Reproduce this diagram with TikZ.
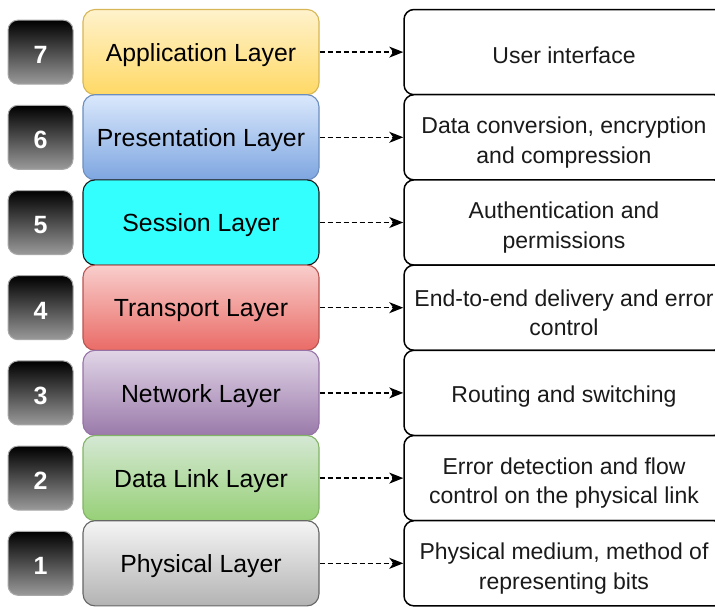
\documentclass[tikz,border=0pt]{standalone}
\usepackage{fontspec}
\setmainfont{Liberation Sans}
\usetikzlibrary{arrows.meta}

% layer palette: top fill, bottom fill, outline
\definecolor{appTop}{HTML}{FFF2CC}\definecolor{appBot}{HTML}{FFD966}\definecolor{appLine}{HTML}{D6B656}
\definecolor{preTop}{HTML}{DAE8FC}\definecolor{preBot}{HTML}{7EA6E0}\definecolor{preLine}{HTML}{6C8EBF}
\definecolor{sesFill}{HTML}{33FFFF}\definecolor{sesLine}{HTML}{1A1A1A}
\definecolor{traTop}{HTML}{F8CECC}\definecolor{traBot}{HTML}{EA6B66}\definecolor{traLine}{HTML}{B85450}
\definecolor{netTop}{HTML}{E1D5E7}\definecolor{netBot}{HTML}{9A7AAA}\definecolor{netLine}{HTML}{9673A6}
\definecolor{dlkTop}{HTML}{D5E8D4}\definecolor{dlkBot}{HTML}{97D077}\definecolor{dlkLine}{HTML}{82B366}
\definecolor{phyTop}{HTML}{F5F5F5}\definecolor{phyBot}{HTML}{B3B3B3}\definecolor{phyLine}{HTML}{666666}
\definecolor{numBot}{HTML}{9A9A9A}\definecolor{numLine}{HTML}{A8A8A8}
\definecolor{infoText}{HTML}{1A1A1A}

\begin{document}
\begin{tikzpicture}[x=1pt,y=1pt,
  layerbox/.style={rounded corners=12pt, line width=1.1pt, minimum width=236pt,
    minimum height=85.2pt, inner sep=0pt},
  layertext/.style={inner sep=0pt, font=\fontsize{24.8}{28}\selectfont},
  numbox/.style={rounded corners=10pt, draw=numLine, line width=1pt,
    top color=black, bottom color=numBot, minimum width=65pt, minimum height=64pt,
    inner sep=0pt},
  numtext/.style={inner sep=0pt, text=white, font=\fontsize{25}{28}\selectfont\bfseries},
  infobox/.style={rounded corners=10pt, draw=black, line width=1.5pt, fill=white,
    minimum width=320pt, minimum height=85.2pt, inner sep=0pt},
  infotext/.style={inner sep=0pt, align=center, text=infoText,
    font=\fontsize{23}{29.5}\selectfont},
  link/.style={dashed, dash pattern=on 5pt off 3pt, line width=1.3pt,
    -{Stealth[length=14pt,width=11pt,inset=4pt]}},
]
\useasboundingbox (0,0) rectangle (715,-606);
\clip (0,0) rectangle (715,-606);

% column centres
\def\numx{40.5}
\def\layx{201}
\def\infx{564}

% layer stack (top to bottom)
\node[layerbox, draw=appLine, top color=appTop, bottom color=appBot] (l7) at (\layx,-52.1) {};
\node[layerbox, draw=preLine, top color=preTop, bottom color=preBot] (l6) at (\layx,-137.3) {};
\node[layerbox, draw=sesLine, fill=sesFill] (l5) at (\layx,-222.5) {};
\node[layerbox, draw=traLine, top color=traTop, bottom color=traBot] (l4) at (\layx,-307.7) {};
\node[layerbox, draw=netLine, top color=netTop, bottom color=netBot] (l3) at (\layx,-392.9) {};
\node[layerbox, draw=dlkLine, top color=dlkTop, bottom color=dlkBot] (l2) at (\layx,-478.1) {};
\node[layerbox, draw=phyLine, top color=phyTop, bottom color=phyBot] (l1) at (\layx,-563.3) {};

\node[layertext] (t7) at ([yshift=-3pt]l7.center) {Application Layer};
\node[layertext] (t6) at ([yshift=-3pt]l6.center) {Presentation Layer};
\node[layertext] (t5) at ([yshift=-3pt]l5.center) {Session Layer};
\node[layertext] (t4) at ([yshift=-3pt]l4.center) {Transport Layer};
\node[layertext] (t3) at ([yshift=-3pt]l3.center) {Network Layer};
\node[layertext] (t2) at ([yshift=-3pt]l2.center) {Data Link Layer};
\node[layertext] (t1) at ([yshift=-3pt]l1.center) {Physical Layer};

% layer numbers
\foreach \i/\y in {7/-52.1, 6/-137.3, 5/-222.5, 4/-307.7, 3/-392.9, 2/-478.1, 1/-563.3} {
  \node[numbox] (n\i) at (\numx,\y) {};
  \node[numtext] (m\i) at ([yshift=-3pt]n\i.center) {\i};
}

% layer functions
\foreach \i/\y in {7/-52.1, 6/-137.3, 5/-222.5, 4/-307.7, 3/-392.9, 2/-478.1, 1/-563.3} {
  \node[infobox] (f\i) at (\infx,\y) {};
}
\node[infotext] (g7) at ([yshift=-3.5pt]f7.center) {User interface};
\node[infotext] (g6) at ([yshift=-5pt]f6.center) {Data conversion, encryption\\and compression};
\node[infotext] (g5) at ([yshift=-5pt]f5.center) {Authentication and\\permissions};
\node[infotext] (g4) at ([yshift=-5pt]f4.center) {End-to-end delivery and error\\control};
\node[infotext] (g3) at ([yshift=-3.5pt]f3.center) {Routing and switching};
\node[infotext] (g2) at ([yshift=-5pt]f2.center) {Error detection and flow\\control on the physical link};
\node[infotext] (g1) at ([yshift=-5pt]f1.center) {Physical medium, method of\\representing bits};

% connectors
\foreach \i in {1,...,7} {
  \draw[link] (l\i.east) -- (f\i.west);
}
\end{tikzpicture}
\end{document}
